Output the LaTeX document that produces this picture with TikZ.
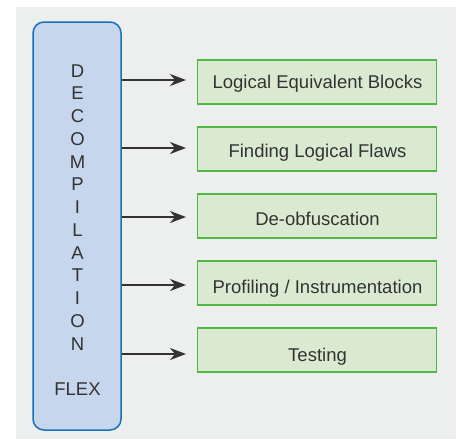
\documentclass[tikz,border=0pt]{standalone}
\usepackage{fontspec}
\setmainfont{Liberation Sans}
\usetikzlibrary{arrows.meta}
\definecolor{bgc}{RGB}{237,239,238}
\definecolor{bluefill}{RGB}{198,214,236}
\definecolor{blueline}{RGB}{24,112,186}
\definecolor{greenfill}{RGB}{218,234,208}
\definecolor{greenline}{RGB}{80,182,70}
\definecolor{txt}{RGB}{51,51,51}
\tikzset{
  decbox/.style={draw=blueline, fill=bluefill, line width=1.5pt, rounded corners=11pt, inner sep=0pt},
  itembox/.style={draw=greenline, fill=greenfill, line width=1.5pt, minimum width=239pt, minimum height=44pt, inner sep=0pt},
  itemtext/.style={text=txt, inner sep=0pt, text height=13.5pt, text depth=0pt, font=\fontsize{18.5}{22}\selectfont},
  arr/.style={draw=txt, line width=2pt, -{Stealth[length=16pt,width=12pt,inset=5pt]}},
}
\begin{document}
\begin{tikzpicture}[x=1pt,y=-1pt]
\useasboundingbox (0,0) rectangle (460,439);
\fill[bgc] (16,7) rectangle (456,439);
\node[decbox, minimum width=88pt, minimum height=408pt] (dec) at (77,226) {};
\node[text=txt, align=center, font=\fontsize{18.5}{22.75}\selectfont] (lbl) at (77.5,230)
  {D\\E\\C\\O\\M\\P\\I\\L\\A\\T\\I\\O\\N\\[22.75pt]FLEX};
\foreach \i/\by/\ty/\t in {1/82.2/82/{Logical Equivalent Blocks},2/149.2/150.3/{Finding Logical Flaws},3/216.2/218.3/{De-obfuscation},4/283/286.3/{Profiling / Instrumentation},5/350/354.3/{Testing}}{
  \node[itembox] (g\i) at (317.2,\by) {};
  \node[itemtext] (t\i) at (317.5,\ty) {\t};
}
\foreach \i/\y in {1/80,2/148,3/217,4/285,5/354}{
  \coordinate (s\i) at (dec.east |- 0,\y);
  \coordinate (e\i) at (186,\y);
  \draw[arr] (s\i) -- (e\i);
}
\end{tikzpicture}
\end{document}
